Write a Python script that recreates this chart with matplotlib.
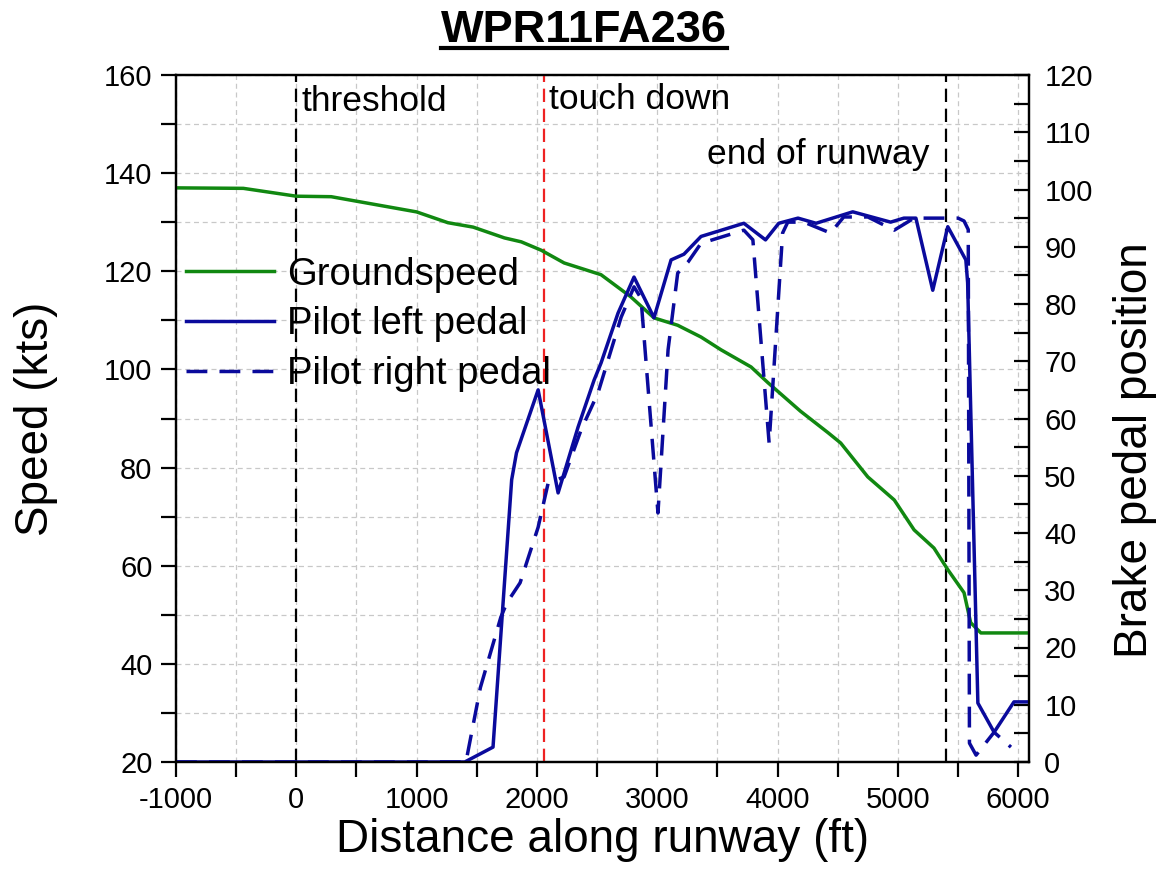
import matplotlib
matplotlib.use("Agg")
import matplotlib.pyplot as plt
from matplotlib.lines import Line2D
from matplotlib.ticker import MultipleLocator

plt.rcParams['font.family'] = ['Liberation Sans', 'DejaVu Sans']
plt.rcParams['axes.unicode_minus'] = False

# groundspeed (kts) vs distance (ft)
gs_x = [-1000, -440, 0, 290, 1000, 1260, 1470, 1730, 1870, 2035, 2226, 2533, 2780,
        2973, 3170, 3364, 3530, 3780, 3920, 4190, 4420, 4525, 4750, 4970, 5135,
        5300, 5415, 5550, 5605, 5690, 6090]
gs = [137, 136.9, 135.3, 135.2, 132.1, 129.9, 129, 126.8, 126, 124.3, 121.7, 119.3,
      114.8, 110.5, 109, 106.6, 104, 100.5, 97.3, 91.5, 87.1, 85, 78.1, 73.4, 67.3,
      63.6, 59.2, 54.5, 48.4, 46.3, 46.3]

# pilot left brake pedal
lp_x = [-1000, 1400, 1635, 1790, 1830, 2010, 2176, 2342, 2475, 2533, 2674, 2807,
        2973, 3115, 3222, 3364, 3720, 3900, 4010, 4170, 4320, 4625, 4940, 5050,
        5150, 5290, 5415, 5565, 5580, 5665, 5800, 5965, 6090]
lp = [0, 0, 2.6, 49.3, 54, 65, 47, 58.5, 66.7, 69.7, 78.4, 84.7, 77.6, 87.7, 88.7,
      91.8, 94.1, 91.2, 94.1, 95, 94.1, 96.1, 94.3, 95, 95, 82.4, 93.5, 87.7, 83.7,
      10.3, 5.2, 10.5, 10.5]

# pilot right brake pedal
rp_x = [-1000, 1410, 1530, 1700, 1750, 1860, 2010, 2093, 2226, 2367, 2508, 2591,
        2700, 2807, 2865, 3006, 3090, 3170, 3255, 3364, 3720, 3795, 3930, 4042,
        4085, 4220, 4440, 4550, 4750, 4970, 5135, 5500, 5550, 5585, 5595, 5650,
        5800, 5940]
rp = [0, 0, 13, 25.3, 27.8, 31.3, 41, 48.7, 49.8, 58, 64.5, 70.2, 77.7, 83, 81,
      43.5, 72, 85.4, 87.3, 90.6, 92.9, 91.2, 55.7, 92.4, 94.3, 94.3, 92.4, 95.2,
      95.2, 92.9, 95, 95, 94.5, 93, 3.3, 1.2, 5.2, 2.6]

events_x = [0, 2060, 5400]
events_lbl = ['threshold', 'touch down', 'end of runway']

green = '#118811'
navy = '#0a0a9c'

fig = plt.figure(figsize=(11.61, 8.86), dpi=100)
ax = fig.add_axes([176/1161, 1-762/886, (1029-176)/1161, (762-75)/886])
ax2 = ax.twinx()

ax.set_xlim(-1000, 6090)
ax.set_ylim(20, 160)
ax2.set_ylim(0, 120)

ax.grid(True, which='both', color='#c8c8c8', linestyle=(0, (4, 3)), linewidth=0.9)
ax.xaxis.set_major_locator(MultipleLocator(1000))
ax.xaxis.set_minor_locator(MultipleLocator(500))
ax.yaxis.set_major_locator(MultipleLocator(20))
ax.yaxis.set_minor_locator(MultipleLocator(10))
ax2.yaxis.set_major_locator(MultipleLocator(10))
ax2.yaxis.set_minor_locator(MultipleLocator(5))

ax.tick_params(which='both', direction='out', length=11, width=1.6, labelsize=21, pad=6)
ax.tick_params(axis='x', pad=6)
ax2.tick_params(which='both', direction='in', length=11, width=1.6, labelsize=21, pad=11)
for a in (ax, ax2):
    for s in a.spines.values():
        s.set_linewidth(1.6)

# event markers
colors = ['black', '#ee2222', 'black']
for xv, c in zip(events_x, colors):
    ax.axvline(xv, color=c, linestyle=(0, (6, 3)), linewidth=1.6, zorder=3)
ax.text(events_x[0] + 40, 0.962, events_lbl[0], transform=ax.get_xaxis_transform(),
        fontsize=25.5, va='center', ha='left')
ax.text(events_x[1] + 40, 0.965, events_lbl[1], transform=ax.get_xaxis_transform(),
        fontsize=25.5, va='center', ha='left')
ax.text(events_x[2] - 140, 0.884, events_lbl[2], transform=ax.get_xaxis_transform(),
        fontsize=25.5, va='center', ha='right')

h1, = ax.plot(gs_x, gs, color=green, linewidth=2.5, label='Groundspeed', zorder=4)
h2, = ax2.plot(lp_x, lp, color=navy, linewidth=2.5, label='Pilot left pedal')
h3, = ax2.plot(rp_x, rp, color=navy, linewidth=2.5, linestyle=(0, (6, 3.5)),
               label='Pilot right pedal')

ax.legend(handles=[h1, h2, h3], loc='center left', bbox_to_anchor=(0.012, 0.637),
          frameon=False, fontsize=27.5, borderpad=0, borderaxespad=0,
          labelspacing=0.36, handlelength=2.3, handletextpad=0.35)

ax.set_xlabel('Distance along runway (ft)', fontsize=33, labelpad=3)
ax.set_ylabel('Speed (kts)', fontsize=33, labelpad=33)
ax2.set_ylabel('Brake pedal position', fontsize=33)
ax2.yaxis.set_label_coords(1.0985, 0.454)

title = fig.text(0.503, 1-42/886, 'WPR11FA236', fontsize=32.5, fontweight='bold',
                 ha='center', va='baseline')
fig.canvas.draw()
bb = title.get_window_extent(fig.canvas.get_renderer())
fig_w, fig_h = fig.bbox.width, fig.bbox.height
fig.add_artist(Line2D([bb.x0 / fig_w, bb.x1 / fig_w], [1-48/886, 1-48/886],
                      color='black', linewidth=3, transform=fig.transFigure))

fig.savefig('out.png', dpi=100)
